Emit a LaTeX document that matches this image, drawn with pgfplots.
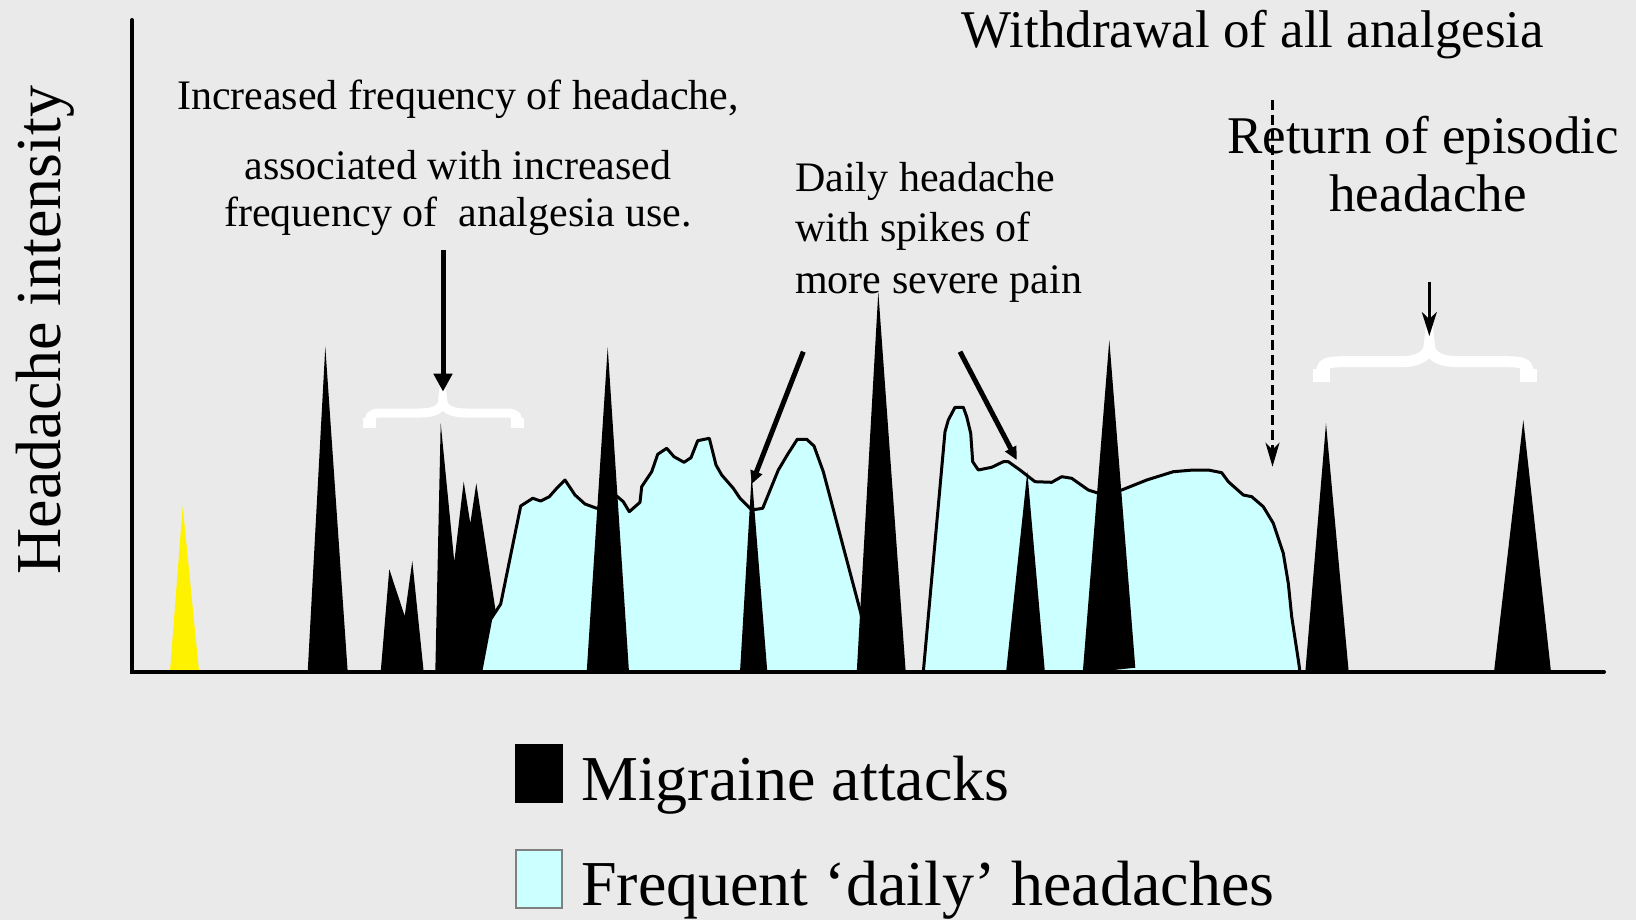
\documentclass[border=0pt]{standalone}
\usepackage{fontspec}
\setmainfont{Liberation Serif}
\usepackage{pgfplots}
\pgfplotsset{compat=1.18}
\usetikzlibrary{arrows.meta}
\definecolor{bg}{RGB}{234,234,234}
\definecolor{cyanfill}{RGB}{204,255,255}
\definecolor{legframe}{RGB}{128,128,128}
\begin{document}
\begin{tikzpicture}
\begin{axis}[
  width=1636pt, height=920pt, scale only axis,
  xmin=0, xmax=1636, ymin=0, ymax=920, y dir=reverse,
  hide axis, clip=false,
]
% background
\fill[bg] (axis cs:0,0) rectangle (axis cs:1636,920);

% yellow onset spike
\addplot[fill=yellow, draw=none] coordinates {(170,671)(182.7,506)(199,671)} --cycle;
% migraine attacks behind the daily headache area
\addplot[fill=black, draw=none] coordinates {(307.7,672)(325.3,346.7)(347.7,672)} --cycle;
\addplot[fill=black, draw=none] coordinates {(380.7,672)(389.3,569.3)(404.7,616)(412.3,561)(423.7,672)} --cycle;
\addplot[fill=black, draw=none] coordinates {(435.3,672)(440.7,423.3)(454.3,561.7)(463.7,481.7)(470.3,523.3)(476.3,483.3)(495,606.7)(505,672)} --cycle;

% frequent daily headaches
\addplot[fill=cyanfill, draw=black, line width=3pt, line join=round] coordinates {
(480.7,672)(490.7,619.3)(500.7,604)(520.7,506)(532.7,498.3)(540.7,501)(549.3,496.7)(556.7,488.3)(565,480)(575,495)(585,504)(596.7,508.3)(606,506)(616.7,496)(623.3,501.7)(629.3,511.7)(640,502.3)(641.7,486.7)(651.7,471.7)(657.7,454.3)(666.7,448.3)(674,456.7)(684,462.3)(691,457.7)(697.7,440.7)(709.3,438.3)(716,465)(721.7,475)(733.3,488.3)(740,498.3)(751.7,510)(762.7,508.3)(778.3,470)(788.3,453.3)(797.3,439.3)(806.7,439.3)(814,446)(823.3,471.7)(860,610)(875,672)} --cycle;
\addplot[fill=cyanfill, draw=black, line width=3pt, line join=round] coordinates {
(923.3,672)(945,431.7)(948.3,420)(955,407.3)(963.3,407.3)(966.7,416.7)(970.7,433.3)(972.7,461.7)(978.3,470)(991.7,467.3)(1003.3,461.7)(1008.3,461.7)(1020,470)(1035,481.7)(1051.7,482.3)(1061.7,476.7)(1071.7,478.3)(1088.3,490)(1096.7,492.7)(1121.7,490)(1146.7,480)(1173.3,471.7)(1193.3,470)(1208.3,470)(1221.7,472.7)(1228.3,481.7)(1243.3,495)(1251.7,496.7)(1263.3,506.7)(1273.3,523.3)(1283.3,553.3)(1288.3,583.3)(1291.7,616.7)(1298.3,660)(1300,672)} --cycle;

% migraine attacks in front
\addplot[fill=black, draw=none] coordinates {(586.7,672)(607.7,347.3)(629,672)} --cycle;
\addplot[fill=black, draw=none] coordinates {(740,672)(751.7,475)(767.3,672)} --cycle;
\addplot[fill=black, draw=none] coordinates {(856.7,673)(878.3,291.7)(905.7,671.7)} --cycle;
\addplot[fill=black, draw=none] coordinates {(1006,672.7)(1027.3,471.7)(1044.7,670)} --cycle;
\addplot[fill=black, draw=none] coordinates {(1082.7,673.3)(1109.3,340)(1135.3,667.7)} --cycle;
\addplot[fill=black, draw=none] coordinates {(1305.3,672)(1326,423.3)(1348.7,672)} --cycle;
\addplot[fill=black, draw=none] coordinates {(1494,672)(1523.3,420)(1551,672)} --cycle;

% axis lines
\addplot[black, line width=4pt, line cap=round, line join=miter] coordinates {(132,20)(132,672)(1604,672)};

% legend swatches
\addplot[fill=black, draw=none] coordinates {(515,744)(563,744)(563,803)(515,803)} --cycle;
\addplot[fill=cyanfill, draw=legframe, line width=2pt] coordinates {(516,850)(562,850)(562,908)(516,908)} --cycle;

% braces
\draw[white, line width=9pt] (axis cs:369.7,424) -- (axis cs:369.7,420) .. controls (axis cs:369.7,413) and (axis cs:375,413) .. (axis cs:387,413) -- (axis cs:420,413) .. controls (axis cs:436,413) and (axis cs:442.7,408) .. (axis cs:442.7,400) .. controls (axis cs:442.7,408) and (axis cs:450,413) .. (axis cs:466,413) -- (axis cs:500,413) .. controls (axis cs:512,413) and (axis cs:517.3,413) .. (axis cs:517.3,420) -- (axis cs:517.3,424);
\draw[white, line width=13pt] (axis cs:369.7,418) -- (axis cs:369.7,428.3);
\draw[white, line width=13pt] (axis cs:517.3,418) -- (axis cs:517.3,428.3);

\draw[white, line width=11pt] (axis cs:1321.7,378) -- (axis cs:1321.7,372) .. controls (axis cs:1321.7,363) and (axis cs:1328,361.7) .. (axis cs:1345,361.7) -- (axis cs:1400,361.7) .. controls (axis cs:1420,361.7) and (axis cs:1429.3,355) .. (axis cs:1429.3,344) .. controls (axis cs:1429.3,355) and (axis cs:1438,361.7) .. (axis cs:1458,361.7) -- (axis cs:1505,361.7) .. controls (axis cs:1522,361.7) and (axis cs:1528,363) .. (axis cs:1528,372) -- (axis cs:1528,378);
\draw[white, line width=17pt] (axis cs:1321.7,369) -- (axis cs:1321.7,381.7);
\draw[white, line width=17pt] (axis cs:1528,369) -- (axis cs:1528,381.7);

% arrows
\draw[black, line width=5pt, -{Triangle[length=18pt,width=18pt]}] (axis cs:443,250) -- (axis cs:443,391.7);
\draw[black, line width=2.5pt, -{Stealth[length=24pt,width=15pt,inset=7pt]}] (axis cs:1429.3,281.7) -- (axis cs:1429.3,336);
\draw[black, line width=2.5pt, dash pattern=on 10pt off 5pt, -{Stealth[length=24pt,width=14pt,inset=7pt]}] (axis cs:1272.5,100) -- (axis cs:1272.5,466.7);
\draw[black, line width=5pt, -{Triangle[length=13pt,width=12pt]}] (axis cs:803.3,351.7) -- (axis cs:751.7,484);
\draw[black, line width=5pt, -{Triangle[length=13pt,width=12pt]}] (axis cs:960,351.7) -- (axis cs:1016.7,460);

% texts
\node[anchor=base, inner sep=0pt, font=\fontsize{53}{60}\selectfont] at (axis cs:1253,48) {Withdrawal of all analgesia};
\node[anchor=base, inner sep=0pt, font=\fontsize{53}{60}\selectfont] at (axis cs:1423,154) {Return of episodic};
\node[anchor=base, inner sep=0pt, font=\fontsize{53}{60}\selectfont] at (axis cs:1428,211.7) {headache};
\node[anchor=base west, inner sep=0pt, font=\fontsize{42}{48}\selectfont] at (axis cs:795,191.7) {Daily headache};
\node[anchor=base west, inner sep=0pt, font=\fontsize{42}{48}\selectfont] at (axis cs:795,241.7) {with spikes of};
\node[anchor=base west, inner sep=0pt, font=\fontsize{42}{48}\selectfont] at (axis cs:795,293.3) {more severe pain};
\node[anchor=base, inner sep=0pt, font=\fontsize{42}{48}\selectfont] at (axis cs:458,109.3) {Increased frequency of headache,};
\node[anchor=base, inner sep=0pt, font=\fontsize{42}{48}\selectfont] at (axis cs:458,180) {associated with increased};
\node[anchor=base, inner sep=0pt, font=\fontsize{42}{48}\selectfont] at (axis cs:458,226.7) {frequency of~~analgesia use.};
\node[anchor=base, inner sep=0pt, rotate=90, font=\fontsize{64}{70}\selectfont] at (axis cs:60,330) {Headache intensity};
\node[anchor=base west, inner sep=0pt, font=\fontsize{64}{70}\selectfont] at (axis cs:581,800) {Migraine attacks};
\node[anchor=base west, inner sep=0pt, font=\fontsize{64}{70}\selectfont] at (axis cs:581,905) {Frequent ‘daily’ headaches};
\end{axis}
\end{tikzpicture}
\end{document}
